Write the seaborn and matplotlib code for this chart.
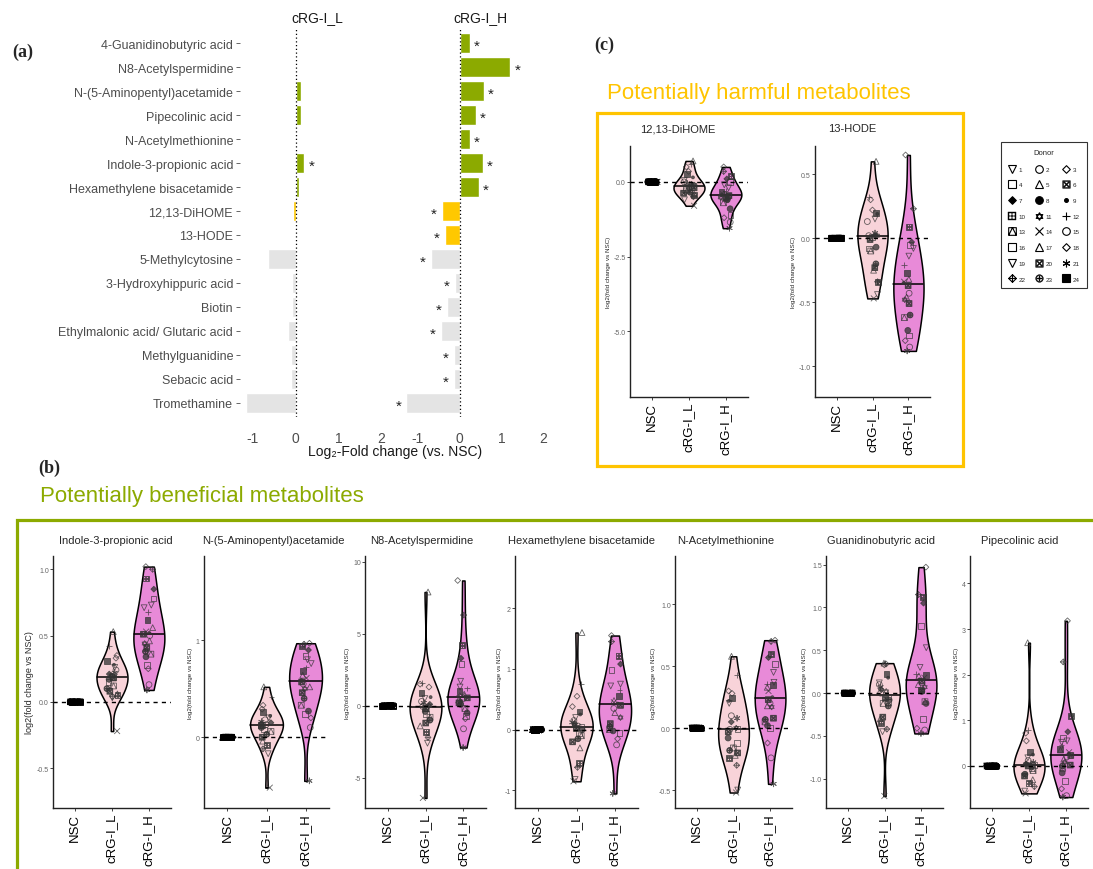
import numpy as np
import pandas as pd
import matplotlib
matplotlib.use("Agg")
import matplotlib.pyplot as plt
from matplotlib.lines import Line2D
from matplotlib.markers import MarkerStyle
from matplotlib.patches import Rectangle
from matplotlib.path import Path
import seaborn as sns

W, H = 1093, 870

# ---------------- panel (a): log2 fold change bars ----------------
metabolites = ["4-Guanidinobutyric acid", "N8-Acetylspermidine", "N-(5-Aminopentyl)acetamide",
               "Pipecolinic acid", "N-Acetylmethionine", "Indole-3-propionic acid",
               "Hexamethylene bisacetamide", "12,13-DiHOME", "13-HODE", "5-Methylcytosine",
               "3-Hydroxyhippuric acid", "Biotin", "Ethylmalonic acid/ Glutaric acid",
               "Methylguanidine", "Sebacic acid", "Tromethamine"]
log2fc_low = [0.03, 0.01, 0.13, 0.13, 0.01, 0.20, 0.08, -0.07, 0.01, -0.65,
              -0.08, -0.08, -0.18, -0.10, -0.10, -1.17]
log2fc_high = [0.25, 1.21, 0.58, 0.39, 0.25, 0.55, 0.46, -0.42, -0.35, -0.69,
               -0.11, -0.30, -0.44, -0.14, -0.14, -1.27]
signif_low = [False, False, False, False, False, True, False, False,
              False, False, False, False, False, False, False, False]
signif_high = [True] * 16
effect = ["beneficial"] * 7 + ["harmful"] * 2 + ["other"] * 7

# ---------------- panels (b), (c): per donor log2 fold change ----------------
groups = ["NSC", "cRG-I_L", "cRG-I_H"]
donor_low = [5, 12, 3, 18, 24, 9, 1, 15, 21, 7, 11, 2, 16, 20, 8, 4, 13, 23, 6, 17, 10, 22, 19, 14]
donor_high = [3, 22, 10, 7, 16, 1, 19, 12, 24, 5, 14, 9, 20, 2, 17, 11, 6, 23, 13, 8, 4, 18, 15, 21]
nsc_values = [0.0] * 24

indole_low = [0.53, 0.42, 0.35, 0.33, 0.31, 0.28, 0.26, 0.24, 0.22, 0.21, 0.20, 0.19,
              0.19, 0.18, 0.17, 0.15, 0.12, 0.10, 0.08, 0.06, 0.05, 0.04, 0.03, -0.22]
indole_high = [1.02, 1.00, 0.93, 0.85, 0.78, 0.73, 0.71, 0.68, 0.62, 0.56, 0.53, 0.52,
               0.51, 0.50, 0.46, 0.44, 0.41, 0.38, 0.36, 0.34, 0.28, 0.25, 0.13, 0.09]
aminopentyl_low = [0.52, 0.42, 0.33, 0.29, 0.26, 0.22, 0.20, 0.18, 0.16, 0.15, 0.14, 0.13,
                   0.13, 0.12, 0.10, 0.08, 0.06, 0.03, 0.00, -0.04, -0.08, -0.12, -0.17, -0.52]
aminopentyl_high = [0.97, 0.96, 0.94, 0.90, 0.84, 0.80, 0.76, 0.72, 0.68, 0.64, 0.61, 0.59,
                    0.57, 0.55, 0.52, 0.50, 0.46, 0.40, 0.33, 0.27, 0.24, 0.20, 0.10, -0.45]
acetylspermidine_low = [7.9, 1.6, 1.5, 1.3, 0.9, 0.6, 0.5, 0.3, 0.2, 0.1, 0.0, -0.05,
                        -0.15, -0.2, -0.4, -0.6, -0.8, -1.0, -1.2, -1.4, -1.8, -2.2, -2.6, -6.4]
acetylspermidine_high = [8.7, 6.3, 4.2, 3.3, 2.9, 1.7, 1.3, 1.2, 1.0, 0.8, 0.7, 0.65,
                         0.55, 0.5, 0.4, 0.3, 0.2, 0.1, -0.2, -0.5, -0.7, -0.9, -1.6, -2.9]
hexamethylene_low = [1.6, 0.75, 0.55, 0.38, 0.30, 0.25, 0.20, 0.15, 0.12, 0.10, 0.07, 0.06,
                     0.04, 0.02, 0.0, -0.05, -0.10, -0.15, -0.20, -0.30, -0.55, -0.62, -0.82, -0.85]
hexamethylene_high = [1.55, 1.45, 1.22, 1.08, 0.98, 0.75, 0.72, 0.65, 0.55, 0.48, 0.45, 0.43,
                      0.40, 0.35, 0.28, 0.20, 0.10, 0.05, 0.0, -0.02, -0.05, -0.15, -0.25, -1.05]
acetylmethionine_low = [0.58, 0.43, 0.30, 0.28, 0.24, 0.22, 0.20, 0.10, 0.08, 0.05, 0.0, -0.01,
                        -0.01, -0.03, -0.08, -0.12, -0.16, -0.18, -0.20, -0.22, -0.24, -0.30, -0.50, -0.52]
acetylmethionine_high = [0.71, 0.70, 0.60, 0.57, 0.52, 0.45, 0.37, 0.36, 0.35, 0.33, 0.30, 0.25,
                         0.23, 0.20, 0.18, 0.17, 0.08, 0.07, 0.05, 0.02, 0.0, -0.12, -0.24, -0.45]
guanidinobutyric_low = [0.35, 0.35, 0.34, 0.33, 0.22, 0.18, 0.12, 0.10, 0.07, 0.04, 0.02, 0.0,
                        -0.04, -0.06, -0.08, -0.10, -0.12, -0.15, -0.28, -0.30, -0.35, -0.42, -0.45, -1.2]
guanidinobutyric_high = [1.47, 1.15, 1.12, 1.05, 0.78, 0.53, 0.30, 0.22, 0.21, 0.20, 0.18, 0.16,
                         0.14, 0.12, 0.10, 0.07, 0.03, 0.02, -0.10, -0.12, -0.30, -0.41, -0.43, -0.47]
pipecolinic_low = [2.7, 0.78, 0.72, 0.55, 0.30, 0.25, 0.18, 0.12, 0.08, 0.05, 0.04, 0.03,
                   0.02, 0.0, -0.02, -0.05, -0.10, -0.18, -0.22, -0.30, -0.38, -0.45, -0.55, -0.60]
pipecolinic_high = [3.18, 2.28, 1.10, 0.75, 0.62, 0.55, 0.52, 0.45, 0.38, 0.35, 0.30, 0.27,
                    0.23, 0.20, 0.15, 0.08, 0.02, 0.0, -0.05, -0.15, -0.32, -0.50, -0.65, -0.68]
dihome_low = [0.70, 0.60, 0.50, 0.35, 0.25, 0.15, 0.05, 0.0, -0.05, -0.08, -0.10, -0.13,
              -0.17, -0.20, -0.22, -0.25, -0.30, -0.35, -0.38, -0.42, -0.45, -0.50, -0.60, -0.80]
dihome_high = [0.50, 0.35, 0.20, 0.10, 0.0, -0.10, -0.20, -0.30, -0.35, -0.40, -0.42, -0.44,
               -0.46, -0.48, -0.50, -0.52, -0.55, -0.60, -0.70, -0.90, -1.10, -1.20, -1.35, -1.55]
hode_low = [0.60, 0.32, 0.30, 0.22, 0.20, 0.19, 0.15, 0.13, 0.04, 0.02, 0.02, 0.02,
            0.01, -0.01, -0.07, -0.08, -0.10, -0.20, -0.23, -0.25, -0.34, -0.34, -0.44, -0.47]
hode_high = [0.65, 0.23, 0.09, -0.03, -0.05, -0.08, -0.14, -0.21, -0.27, -0.32, -0.34, -0.35,
             -0.37, -0.43, -0.46, -0.48, -0.51, -0.60, -0.62, -0.72, -0.76, -0.80, -0.85, -0.88]

# ---------------- style ----------------
sns.set_theme(style="white")
plt.rcParams["font.family"] = ["Liberation Sans", "DejaVu Sans"]
plt.rcParams["axes.unicode_minus"] = False

GREEN = "#8CAA00"
YELLOW = "#FFC400"
effect_colors = {"beneficial": GREEN, "harmful": "#FFC800", "other": "#E4E4E4"}
violin_colors = {"cRG-I_L": "#F8D3D9", "cRG-I_H": "#E88AD8"}
POINT = (0.2, 0.2, 0.2, 0.75)


def two_part(a, b):
    verts = a + b
    codes = ([Path.MOVETO] + [Path.LINETO] * (len(a) - 1)
             + [Path.MOVETO] + [Path.LINETO] * (len(b) - 1))
    return Path(verts, codes)


diamond = Path([(0, 1), (1, 0), (0, -1), (-1, 0), (0, 1)],
               [Path.MOVETO, Path.LINETO, Path.LINETO, Path.LINETO, Path.CLOSEPOLY])
star_david = two_part([(0, 1), (-0.866, -0.5), (0.866, -0.5), (0, 1)],
                      [(0, -1), (-0.866, 0.5), (0.866, 0.5), (0, -1)])
square_tri = two_part([(-1, -1), (1, -1), (1, 1), (-1, 1), (-1, -1)],
                      [(-1, -1), (0, 1), (1, -1)])
diamond_plus = Path([(0, 1), (1, 0), (0, -1), (-1, 0), (0, 1), (0, -1), (-1, 0), (1, 0)],
                    [Path.MOVETO, Path.LINETO, Path.LINETO, Path.LINETO, Path.LINETO,
                     Path.LINETO, Path.MOVETO, Path.LINETO])

donor_markers = [
    ("v", "open"), ("o", "open"), (diamond, "open"),
    ("s", "open"), ("^", "open"), (r"$\boxtimes$", "glyph"),
    (diamond, "fill"), ("o", "fill"), (".", "fill"),
    (r"$\boxplus$", "glyph"), (star_david, "open"), ("+", "open"),
    (square_tri, "open"), ("x", "open"), ("o", "open"),
    ("s", "open"), ("^", "open"), (diamond, "open"),
    ("v", "open"), (r"$\boxtimes$", "glyph"), ((6, 2, 0), "open"),
    (diamond_plus, "open"), (r"$\oplus$", "glyph"), ("s", "fill"),
]


def marker_path(m):
    ms = MarkerStyle(m)
    return ms.get_path().transformed(ms.get_transform())


donor_paths = [marker_path(m) for m, _ in donor_markers]

fig = plt.figure(figsize=(W / 100, H / 100), dpi=100)


def add_ax(l, t, r, b):
    return fig.add_axes([l / W, 1 - b / H, (r - l) / W, (b - t) / H])


# ---------------- panel (a) ----------------
bars = pd.DataFrame({"metabolite": metabolites, "low": log2fc_low, "high": log2fc_high})
bar_colors = [effect_colors[e] for e in effect]
ax_l = add_ax(240, 30, 394, 418)
ax_h = add_ax(405, 30, 556, 418)
for ax, col, sig, strip in [(ax_l, "low", signif_low, "cRG-I_L"),
                            (ax_h, "high", signif_high, "cRG-I_H")]:
    sns.barplot(data=bars, x=col, y="metabolite", hue="metabolite", palette=bar_colors,
                saturation=1, width=0.84, errorbar=None, legend=False, orient="h", ax=ax)
    ax.axvline(0, color="black", lw=0.9, ls=(0, (1, 2)), zorder=3)
    for i, (v, s) in enumerate(zip(bars[col], sig)):
        if s:
            ax.text(v + (0.17 if v > 0 else -0.19), i + 0.12, "*", ha="center",
                    va="center", fontsize=11, color="#222222")
    ax.set_xlim(-1.3, 2.3)
    ax.set_ylim(15.6, -0.6)
    ax.set_xticks([-1, 0, 1, 2])
    ax.set_xticklabels(["-1", "0", "1", "2"])
    ax.tick_params(axis="x", labelsize=10, labelcolor="#4D4D4D", length=0, pad=10)
    ax.set_xlabel("")
    ax.set_ylabel("")
    ax.set_title(strip, fontsize=10, pad=6, color="#1A1A1A")
    sns.despine(ax=ax, left=True, bottom=True)
ax_l.tick_params(axis="y", labelsize=9, labelcolor="#4D4D4D", left=True, length=3,
                 width=0.6, color="#4D4D4D", pad=2)
ax_h.set_yticklabels([])
ax_h.tick_params(axis="y", left=False)
fig.text(395 / W, 1 - 452 / H, "Log₂-Fold change (vs. NSC)", ha="center", va="center",
         fontsize=10, color="#1A1A1A")


# ---------------- violin panels ----------------
def donor_frame(low, high):
    return pd.DataFrame({
        "group": ["NSC"] * 24 + ["cRG-I_L"] * 24 + ["cRG-I_H"] * 24,
        "donor": list(range(1, 25)) + donor_low + donor_high,
        "value": nsc_values + low + high,
    })


def violin_panel(ax, title, low, high, ylim, yticks, yticklabels, title_x, title_y, ylab_size=4.5):
    df = donor_frame(low, high)
    sns.violinplot(data=df[df["group"] != "NSC"], x="group", y="value", order=groups,
                   hue="group", palette=violin_colors, saturation=1, cut=0, inner="quart",
                   density_norm="width", width=0.84, linewidth=1.1, linecolor="black",
                   bw_method="silverman", legend=False, ax=ax)
    medians = [np.median(low), np.median(high)]
    for line in ax.lines:
        if np.isclose(line.get_ydata()[0], medians).any():
            line.set_linestyle("-")
            line.set_linewidth(1.1)
            line.set_color("black")
        else:
            line.set_visible(False)

    n0 = len(ax.collections)
    sns.stripplot(data=df, x="group", y="value", order=groups, jitter=0.15, size=4.2,
                  color="#333333", zorder=3, ax=ax)
    for coll in ax.collections[n0:]:
        offs = coll.get_offsets()
        if len(offs) == 0:
            continue
        g = groups[int(round(np.mean(offs[:, 0])))]
        sub = df[df["group"] == g]
        coll.set_paths([donor_paths[d - 1] for d in sub["donor"]])
        if g == "NSC":
            fc = ["black"] * len(sub)
            ec = ["black"] * len(sub)
        else:
            fc = [(0, 0, 0, 0) if donor_markers[d - 1][1] == "open" else POINT for d in sub["donor"]]
            ec = [POINT] * len(sub)
        coll.set_facecolors(fc)
        coll.set_edgecolors(ec)
        coll.set_linewidths(0.6)

    ax.axhline(0, color="black", lw=1, ls=(0, (3, 3)), zorder=4)
    ax.set_xlim(-0.6, 2.6)
    ax.set_ylim(ylim)
    ax.set_yticks(yticks)
    ax.set_yticklabels(yticklabels)
    ax.tick_params(axis="y", labelsize=5, labelcolor="#666666", left=True, length=2,
                   width=0.6, pad=1)
    ax.tick_params(axis="x", labelsize=9.5, labelcolor="black", rotation=90, bottom=True,
                   length=2, width=0.6, pad=1.5)
    ax.set_xlabel("")
    ax.set_ylabel("log2(fold change vs NSC)", fontsize=ylab_size, labelpad=2)
    sns.despine(ax=ax)
    for sp in ["left", "bottom"]:
        ax.spines[sp].set_color("#222222")
        ax.spines[sp].set_linewidth(1)
    fig.text(title_x / W, 1 - title_y / H, title, ha="center", va="center", fontsize=8)


# panel (c): harmful
violin_panel(add_ax(630, 147, 748, 398), "12,13-DiHOME", dihome_low, dihome_high,
             (-7.2, 1.2), [-5.0, -2.5, 0.0], ["-5.0", "-2.5", "0.0"], 678, 129)
violin_panel(add_ax(815, 147, 930, 398), "13-HODE", hode_low, hode_high,
             (-1.24, 0.72), [-1.0, -0.5, 0.0, 0.5], ["-1.0", "-0.5", "0.0", "0.5"], 852, 129)

# panel (b): beneficial
violin_panel(add_ax(53, 557, 171, 809), "Indole-3-propionic acid", indole_low, indole_high,
             (-0.8, 1.1), [-0.5, 0.0, 0.5, 1.0], ["-0.5", "0.0", "0.5", "1.0"], 116, 541,
             ylab_size=6.5)
violin_panel(add_ax(204, 557, 329, 809), "N-(5-Aminopentyl)acetamide", aminopentyl_low,
             aminopentyl_high, (-0.73, 1.87), [0, 1], ["0", "1"], 273, 541)
violin_panel(add_ax(365, 557, 486, 809), "N8-Acetylspermidine", acetylspermidine_low,
             acetylspermidine_high, (-7.1, 10.4), [-5, 0, 5, 10], ["-5", "0", "5", "10"], 422, 541)
violin_panel(add_ax(515, 557, 638, 809), "Hexamethylene bisacetamide", hexamethylene_low,
             hexamethylene_high, (-1.29, 2.86), [-1, 0, 1, 2], ["-1", "0", "1", "2"], 581, 541)
violin_panel(add_ax(675, 557, 792, 809), "N-Acetylmethionine", acetylmethionine_low,
             acetylmethionine_high, (-0.645, 1.39), [-0.5, 0.0, 0.5, 1.0],
             ["-0.5", "0.0", "0.5", "1.0"], 726, 541)
violin_panel(add_ax(826, 557, 943, 809), "Guanidinobutyric acid", guanidinobutyric_low,
             guanidinobutyric_high, (-1.34, 1.6), [-1.0, -0.5, 0.0, 0.5, 1.0, 1.5],
             ["-1.0", "-0.5", "0.0", "0.5", "1.0", "1.5"], 881, 541)
violin_panel(add_ax(970, 557, 1088, 809), "Pipecolinic acid", pipecolinic_low, pipecolinic_high,
             (-0.92, 4.6), [0, 1, 2, 3, 4], ["0", "1", "2", "3", "4"], 1020, 541)

# ---------------- boxes, titles, panel labels ----------------
fig.add_artist(Rectangle((17 / W, 1 - 880 / H), 1100 / W, 359 / H, transform=fig.transFigure,
                         fill=False, edgecolor=GREEN, lw=2.3, clip_on=False))
fig.add_artist(Rectangle((597 / W, 1 - 467 / H), 366 / W, 353 / H, transform=fig.transFigure,
                         fill=False, edgecolor=YELLOW, lw=2.3))
fig.text(40 / W, 1 - 497 / H, "Potentially beneficial metabolites", color=GREEN,
         fontsize=16, ha="left", va="center")
fig.text(607 / W, 1 - 93 / H, "Potentially harmful metabolites", color=YELLOW,
         fontsize=16, ha="left", va="center")
for label, x, y in [("(a)", 12, 52), ("(b)", 38, 468), ("(c)", 594, 45)]:
    fig.text(x / W, 1 - y / H, label, fontsize=13, fontweight="bold",
             family="Liberation Serif", ha="left", va="center")

# ---------------- donor legend ----------------
handles = []
for m, kind in donor_markers:
    handles.append(Line2D([], [], marker=m, linestyle="none", markersize=5.5,
                          markerfacecolor="none" if kind == "open" else "black",
                          markeredgecolor="black", markeredgewidth=0.3 if kind == "glyph" else 0.8))
labels = [str(d) for d in range(1, 25)]
order = list(range(0, 24, 3)) + list(range(1, 24, 3)) + list(range(2, 24, 3))
leg = fig.legend([handles[i] for i in order], [labels[i] for i in order], ncol=3,
                 title="Donor", loc="upper left", bbox_to_anchor=(998 / W, 1 - 140 / H),
                 fontsize=4.5, title_fontsize=5.5, frameon=True, fancybox=False,
                 edgecolor="black", handlelength=1.3, handletextpad=0.4,
                 columnspacing=1.5, labelspacing=1.65, borderpad=1.1)
leg.get_frame().set_linewidth(0.8)

fig.savefig("out.png", dpi=100)
